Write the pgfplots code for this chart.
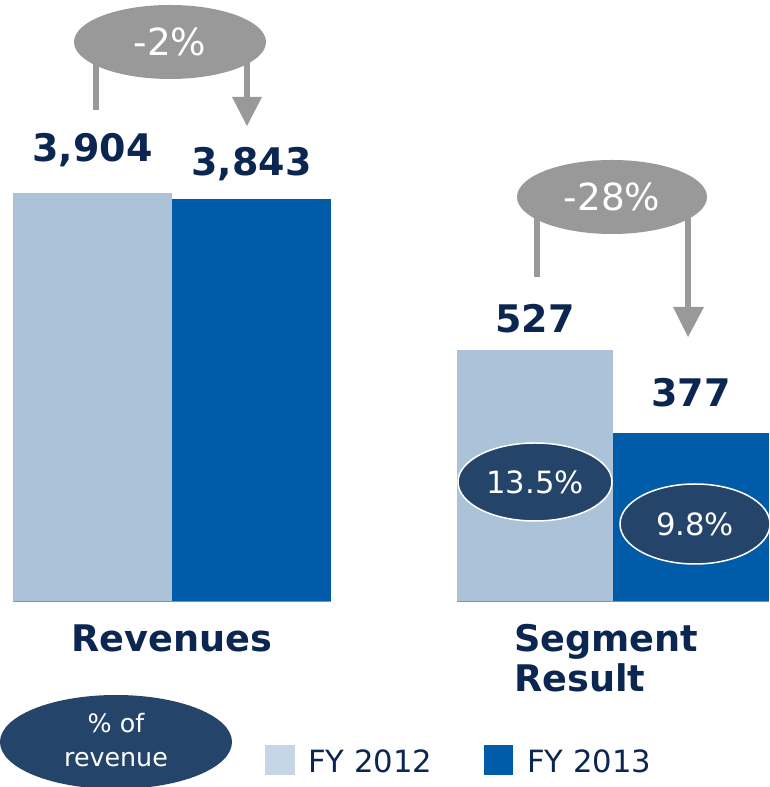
\documentclass[border=0pt]{standalone}
\usepackage{pgfplots}
\pgfplotsset{compat=1.18}
\usepackage{fontspec}
\setmainfont{DejaVu Sans}
\definecolor{fylight}{HTML}{ABC2D8}
\definecolor{fydark}{HTML}{005CA9}
\definecolor{navy}{HTML}{0B2650}
\definecolor{ellnavy}{HTML}{25446A}
\definecolor{arrgray}{HTML}{999999}
\definecolor{leglight}{HTML}{C6D6E6}
\definecolor{basegray}{HTML}{8C9198}
\newlength\px \setlength\px{0.75pt}
\pgfplotsset{
  barpanel/.style={
    scale only axis,
    xmin=0, xmax=2,
    axis x line=bottom, axis y line=none,
    x axis line style={draw=basegray, line width=2.5\px, -},
    xtick=\empty, ytick=\empty,
    ybar, bar width=1, bar shift=0pt,
    nodes near coords,
    /pgf/number format/1000 sep={,},
    /pgf/number format/assume math mode=true,
    every node near coord/.append style={font=\bfseries\fontsize{28.5}{30}\selectfont, text=navy, inner sep=0pt},
  }
}
\begin{document}
\begin{tikzpicture}[x=0.75pt,y=0.75pt]
\useasboundingbox (0,0) rectangle (769,787);
% Revenues
\begin{axis}[barpanel, anchor=south west, at={(13\px,186\px)}, width=318\px, height=408\px, ymin=0, ymax=3904]
\addplot[fill=fylight, draw=none, every node near coord/.append style={yshift=26\px}] coordinates {(0.5,3904)};
\addplot[fill=fydark, draw=none, every node near coord/.append style={yshift=18\px}] coordinates {(1.5,3843)};
\end{axis}
% Segment result
\begin{axis}[barpanel, anchor=south west, at={(457\px,186\px)}, width=312\px, height=251\px, ymin=73, ymax=527]
\addplot[fill=fylight, draw=none, every node near coord/.append style={yshift=17\px}] coordinates {(0.5,527)};
\addplot[fill=fydark, draw=none, every node near coord/.append style={yshift=26\px}] coordinates {(1.5,377)};
\end{axis}
% change arrows
\draw[arrgray, line width=6\px] (96,735) -- (96,677);
\draw[arrgray, line width=6\px] (247,735) -- (247,688);
\fill[arrgray] (232,690) -- (262,690) -- (247,661) -- cycle;
\fill[arrgray] (170,745) ellipse [x radius=96\px, y radius=37\px];
\node[text=white, font=\fontsize{28}{30}\selectfont] at (170,745) {-2\%};
\draw[arrgray, line width=6\px] (537,580) -- (537,510);
\draw[arrgray, line width=6\px] (688,580) -- (688,478);
\fill[arrgray] (673,480) -- (704,480) -- (688,450) -- cycle;
\fill[arrgray] (612,590) ellipse [x radius=95\px, y radius=37\px];
\node[text=white, font=\fontsize{28}{30}\selectfont] at (612,590) {-28\%};
% margin ellipses
\filldraw[fill=ellnavy, draw=white, line width=1.5\px] (535,305) ellipse [x radius=77\px, y radius=39\px];
\node[text=white, font=\fontsize{23}{26}\selectfont] at (535,305) {13.5\%};
\filldraw[fill=ellnavy, draw=white, line width=1.5\px] (695,263) ellipse [x radius=75\px, y radius=40\px];
\node[text=white, font=\fontsize{23}{26}\selectfont] at (695,263) {9.8\%};
% category labels
\node[anchor=base, text=navy, font=\bfseries\fontsize{27.5}{30}\selectfont, inner sep=0pt] at (172,135) {Revenues};
\node[anchor=base west, text=navy, font=\bfseries\fontsize{27.5}{30}\selectfont, inner sep=0pt] at (514,135) {Segment};
\node[anchor=base west, text=navy, font=\bfseries\fontsize{27.5}{30}\selectfont, inner sep=0pt] at (514,95) {Result};
% % of revenue
\fill[ellnavy] (116,45) ellipse [x radius=116\px, y radius=47\px];
\node[text=white, font=\fontsize{19}{26}\selectfont, align=center] at (116,47) {\% of\\revenue};
% legend
\fill[leglight] (265,12) rectangle (295,42);
\node[anchor=base west, text=navy, font=\fontsize{23}{26}\selectfont, inner sep=0pt] at (308,14) {FY 2012};
\fill[fydark] (484,12) rectangle (513,42);
\node[anchor=base west, text=navy, font=\fontsize{23}{26}\selectfont, inner sep=0pt] at (527,14) {FY 2013};
\end{tikzpicture}
\end{document}
